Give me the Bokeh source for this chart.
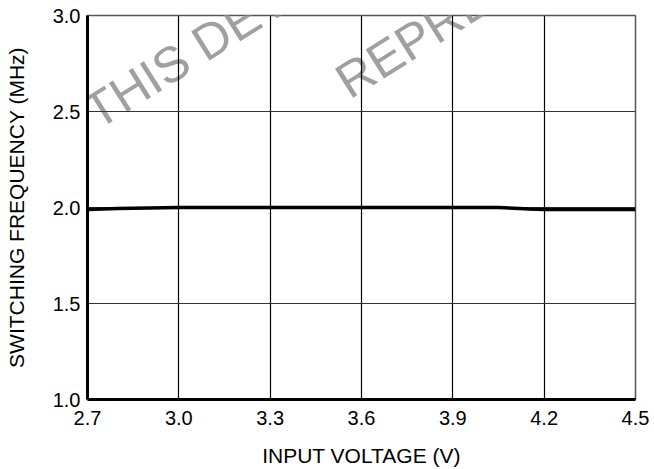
from bokeh.plotting import figure
from bokeh.models import Label, Range1d, FixedTicker, PrintfTickFormatter
from bokeh.embed import file_html
from bokeh.resources import INLINE

# data
vin = [2.7, 2.8, 2.9, 3.0, 3.3, 3.6, 3.9, 4.05, 4.1, 4.15, 4.2, 4.5]
fsw = [1.99, 1.995, 1.998, 2.0, 2.0, 2.0, 2.0, 2.0, 1.996, 1.992, 1.99, 1.99]
x_ticks = [2.7, 3.0, 3.3, 3.6, 3.9, 4.2, 4.5]
y_ticks = [1.0, 1.5, 2.0, 2.5, 3.0]
x_label = "INPUT VOLTAGE (V)"
y_label = "SWITCHING FREQUENCY (MHz)"
FONT = "Liberation Sans"

p = figure(width=654, height=469, output_backend="svg", toolbar_location=None,
           x_range=Range1d(2.7, 4.5), y_range=Range1d(1.0, 3.0),
           min_border_left=87, min_border_top=15, min_border_right=19, min_border_bottom=70)

p.background_fill_color = "white"
p.border_fill_color = "white"
p.outline_line_color = "#555555"
p.outline_line_width = 1.5

for ax, ticks in ((p.xaxis, x_ticks), (p.yaxis, y_ticks)):
    ax.ticker = FixedTicker(ticks=ticks)
    ax.formatter = PrintfTickFormatter(format="%.1f")
    ax.axis_line_color = "black"
    ax.axis_line_width = 3
    ax.major_tick_line_color = None
    ax.minor_tick_line_color = None
    ax.major_tick_out = 0
    ax.major_tick_in = 0
    ax.minor_tick_out = 0
    ax.minor_tick_in = 0
    ax.major_label_text_font = FONT
    ax.major_label_text_font_size = "20px"
    ax.major_label_text_color = "black"
    ax.axis_label_text_font = FONT
    ax.axis_label_text_font_size = "21px"
    ax.axis_label_text_font_style = "normal"
    ax.axis_label_text_color = "black"

p.xaxis.axis_label = x_label
p.yaxis.axis_label = y_label
p.xaxis.major_label_standoff = 11
p.yaxis.major_label_standoff = 7
p.xaxis.axis_label_standoff = 16
p.yaxis.axis_label_standoff = 22

p.xgrid.grid_line_color = "black"
p.ygrid.grid_line_color = "#333333"
p.xgrid.grid_line_width = 1.2
p.ygrid.grid_line_width = 1.2

# watermark
for txt, x, y in (("THIS DEVICE", 2.753, 2.352), ("REPRESENTATIVE", 3.581, 2.512)):
    p.add_layout(Label(x=x, y=y, text=txt, angle=0.56, text_font=FONT,
                       text_font_size="50px", text_color="#a0a0a0", level="image"))

p.line(vin, fsw, line_color="black", line_width=3.5)

open("out.html", "w").write(file_html(p, INLINE))
